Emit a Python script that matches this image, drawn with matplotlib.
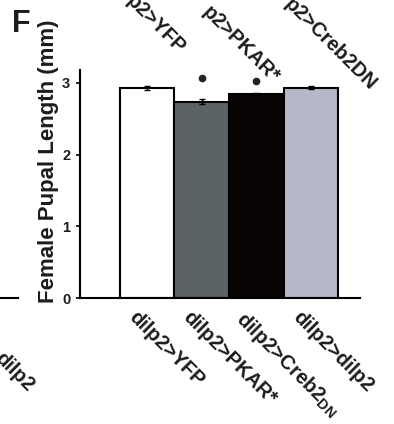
import matplotlib
matplotlib.use('Agg')
import matplotlib.pyplot as plt
from matplotlib.lines import Line2D

plt.rcParams['font.family'] = ['Liberation Sans', 'DejaVu Sans']
plt.rcParams['font.weight'] = 'bold'
plt.rcParams['mathtext.fontset'] = 'custom'
plt.rcParams['mathtext.rm'] = 'Liberation Sans:bold'
plt.rcParams['mathtext.bf'] = 'Liberation Sans:bold'
plt.rcParams['mathtext.default'] = 'bf'

# data
genotypes = ['dilp2>YFP', 'dilp2>PKAR*', r'dilp2>Creb2$_{DN}$', 'dilp2>dilp2']
pupal_length = [2.93, 2.74, 2.84, 2.93]
sem = [0.03, 0.03, 0.02, 0.02]
star_height = [None, 3.07, 3.03, None]
bar_colors = ['#ffffff', '#5b6367', '#080404', '#b5b8c7']
yticks = [0, 1, 2, 3]

# leftovers of the neighbouring panels that were cut into this crop
top_labels = ['p2>YFP', 'p2>PKAR*', 'p2>Creb2DN']
top_label_ends = [(178, 55), (272, 84), (370, 91)]

ink = '#1c1c1c'
fig = plt.figure(figsize=(3.94, 4.24), dpi=100)
W, H = 394, 424
ax = fig.add_axes([80 / W, 1 - 298 / H, 280 / W, 228 / H])

x = range(len(pupal_length))
ax.bar(x, pupal_length, width=1.0, color=bar_colors, edgecolor='black',
       linewidth=1.5, yerr=sem, error_kw=dict(ecolor='black', elinewidth=1,
                                              capsize=2, capthick=1))
for i, h in enumerate(star_height):
    if h is not None:
        ax.plot(i, h, 'o', color='#222222', ms=4.5)

ax.set_xlim(-1.23, 3.9)
ax.set_ylim(0, 3.18)
ax.set_yticks(yticks)
ax.set_yticklabels([str(t) for t in yticks], fontsize=10.5, fontweight='bold',
                   color=ink)
ax.set_xticks([])
ax.tick_params(axis='y', length=3, width=1.2, pad=4)
for side in ['top', 'right']:
    ax.spines[side].set_visible(False)
for side in ['left', 'bottom']:
    ax.spines[side].set_linewidth(1.5)

for i, lab in enumerate(genotypes):
    ax.text(i - 0.16, -0.13, lab, rotation=-45, rotation_mode='anchor',
            ha='left', va='top', fontsize=14.5, fontweight='bold', color=ink)

fig.text(49 / W, 1 - 161 / H, 'Female Pupal Length (mm)', rotation=90,
         ha='center', va='center', fontsize=16, fontweight='bold', color=ink)
fig.text(12 / W, 1 - 32 / H, 'F', fontsize=22, fontweight='bold',
         ha='left', va='baseline', color=ink)

for lab, (px, py) in zip(top_labels, top_label_ends):
    fig.text(px / W, 1 - py / H, lab, rotation=-45, rotation_mode='anchor',
             ha='right', va='baseline', fontsize=14.5, fontweight='bold',
             color=ink)

fig.text(27 / W, 1 - 392 / H, 'dilp2', rotation=-45,
         rotation_mode='anchor', ha='right', va='baseline', fontsize=14.5,
         fontweight='bold', color=ink)
fig.add_artist(Line2D([0, 18 / W], [1 - 298 / H, 1 - 298 / H],
                      transform=fig.transFigure, color='black', lw=1.5))

fig.savefig('out.png', dpi=100)
